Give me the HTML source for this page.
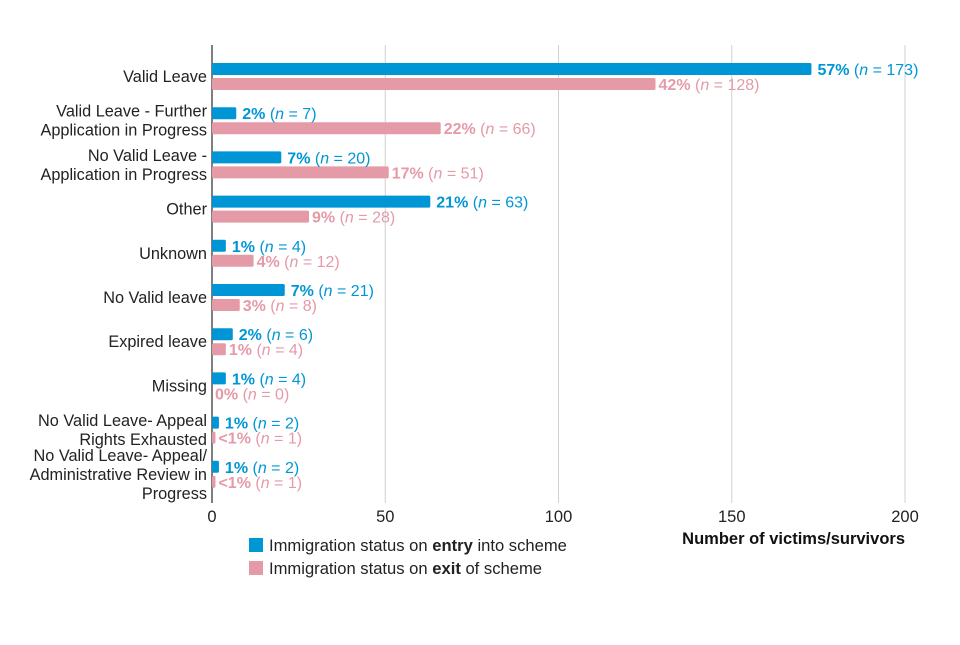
<!DOCTYPE html>
<html><head><meta charset="utf-8"><style>
body{margin:0;background:#fff;font-family:"Liberation Sans",Arial,sans-serif}
svg text{font-family:"Liberation Sans",Arial,sans-serif}
</style></head><body>
<svg id="chart" width="960" height="640" viewBox="0 0 960 640" xmlns="http://www.w3.org/2000/svg"></svg>
<script>
const categories=[["Valid Leave"],["Valid Leave - Further","Application in Progress"],["No Valid Leave -","Application in Progress"],["Other"],["Unknown"],["No Valid leave"],["Expired leave"],["Missing"],["No Valid Leave- Appeal","Rights Exhausted"],["No Valid Leave- Appeal/","Administrative Review in","Progress"]];
const entryValues=[173,7,20,63,4,21,6,4,2,2];
const exitValues=[128,66,51,28,12,8,4,0,1,1];
const entryPct=["57%","2%","7%","21%","1%","7%","2%","1%","1%","1%"];
const exitPct=["42%","22%","17%","9%","4%","3%","1%","0%","<1%","<1%"];
const ticks=[0,50,100,150,200];

const NS="http://www.w3.org/2000/svg";
const svg=document.getElementById('chart');
const X0=212,XS=(905-212)/200;
const x=v=>X0+v*XS;
const rowY=i=>76+i*44.2;
const BLUE="#0096d6",PINK="#e59aa8";
function mk(tag,attrs,parent){const e=document.createElementNS(NS,tag);for(const k in attrs)e.setAttribute(k,attrs[k]);(parent||svg).appendChild(e);return e;}

ticks.forEach((t,i)=>{
  if(t>0){const g=mk('line',{x1:x(t),x2:x(t),y1:45,y2:503,stroke:'#d0d0d0','stroke-width':1});
  
  }
  const tl=mk('text',{x:x(t),y:522,'text-anchor':'middle','font-size':16.5,fill:'#222'});
  tl.textContent=t;
  
  
});
const ax=mk('line',{x1:X0,x2:X0,y1:45,y2:503,stroke:'#555','stroke-width':1.5});



function lab(xp,y,pct,n,color,name){
  const t=mk('text',{x:xp,y:y,'font-size':16,fill:color});
  
  
  const a=mk('tspan',{'font-weight':'bold'},t);a.textContent=pct+' ';
  const b=mk('tspan',{},t);b.textContent='(';
  const c=mk('tspan',{'font-style':'italic'},t);c.textContent='n';
  const d=mk('tspan',{},t);d.textContent=' = '+n+')';
}

categories.forEach((cat,i)=>{
  const cy=rowY(i);
  const lh=19;
  const start=cy-(cat.length-1)*lh/2+6;
  const ct=mk('text',{'font-size':16.3,fill:'#222','text-anchor':'end'});
  
  
  cat.forEach((line,j)=>{const s=mk('tspan',{x:207,y:start+j*lh},ct);s.textContent=line;});
  const b1=mk('rect',{x:X0,y:cy-13,width:Math.max(entryValues[i]*XS,0),height:12,fill:BLUE,rx:1.5});
  
  
  const b2=mk('rect',{x:X0,y:cy+2,width:Math.max(exitValues[i]*XS,0),height:12,fill:PINK,rx:1.5});
  
  
  lab(x(entryValues[i])+6,cy-1,entryPct[i],entryValues[i],BLUE,'entry-value-label-'+i);
  lab(x(exitValues[i])+3,cy+14,exitPct[i],exitValues[i],PINK,'exit-value-label-'+i);
});

const xt=mk('text',{x:905,y:544,'text-anchor':'end','font-size':16.5,'font-weight':'bold',fill:'#111'});
xt.textContent='Number of victims/survivors';



function legend(y,color,pre,bold,post,name){
  const g=mk('g',{});
  
  
  mk('rect',{x:249,y:y-12,width:14,height:14,fill:color},g);
  const t=mk('text',{x:269,y:y+1,'font-size':16.6,fill:'#222'},g);
  const a=mk('tspan',{},t);a.textContent=pre;
  const b=mk('tspan',{'font-weight':'bold'},t);b.textContent=bold;
  const c=mk('tspan',{},t);c.textContent=post;
}
legend(550,BLUE,'Immigration status on ','entry',' into scheme','legend-entry-entry');
legend(573,PINK,'Immigration status on ','exit',' of scheme','legend-entry-exit');
</script>
</body></html>
